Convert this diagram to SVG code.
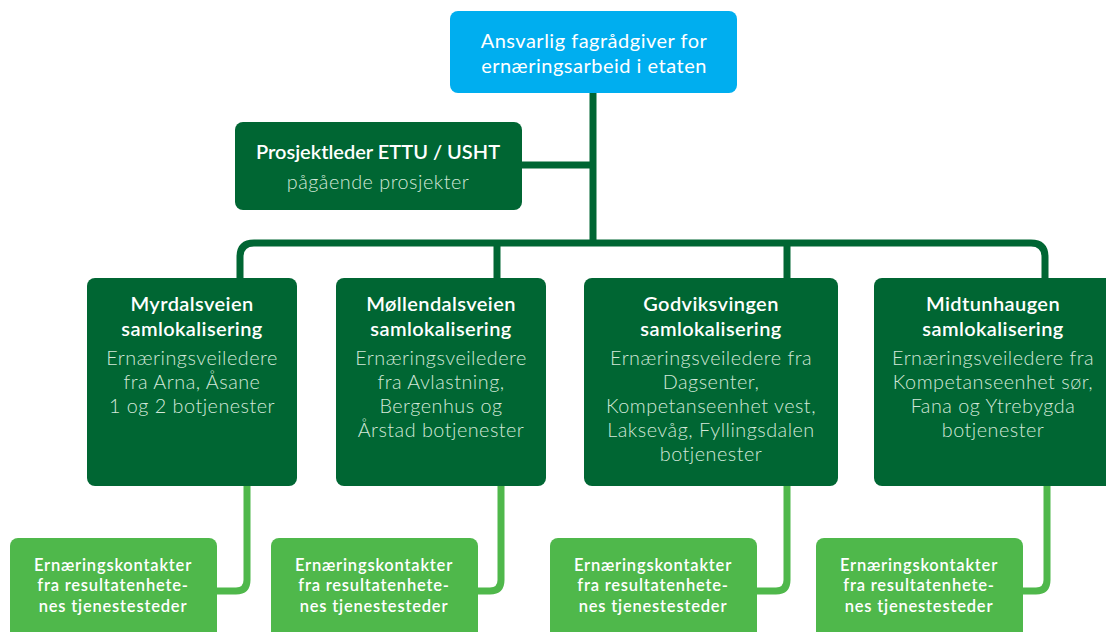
<svg xmlns="http://www.w3.org/2000/svg" width="1106" height="632" viewBox="0 0 1106 632">
<style>
.t{font-family:Lato,"Open Sans","Liberation Sans",sans-serif;text-anchor:middle;fill:#fff}
.h{font-size:20px;font-weight:600;letter-spacing:0.4px}
.a{font-size:20px;font-weight:400;letter-spacing:0.5px}
.b{font-size:19.8px;font-weight:300;fill:#d3e8d9;letter-spacing:0.5px}
.g{font-size:16.5px;font-weight:600;letter-spacing:0.8px}
.dk{fill:#006633}
.lg{fill:#4fb84b}
.cd{fill:none;stroke:#006633;stroke-width:7}
.cl{fill:none;stroke:#4fb84b;stroke-width:7}
</style>
<rect width="1106" height="632" fill="#fff"/>
<g id="connectors">
<path class="cd" d="M593 93 V243"/>
<path class="cd" d="M522 165 H593"/>
<path class="cd" d="M240 280 V257 Q240 243 254 243 H1031 Q1045 243 1045 257 V280"/>
<path class="cd" d="M497 243 V280"/>
<path class="cd" d="M787 243 V280"/>
<path class="cl" d="M247 484 V580 Q247 591 236 591 H215"/>
<path class="cl" d="M501 484 V580 Q501 591 490 591 H476"/>
<path class="cl" d="M787 484 V580 Q787 591 776 591 H755"/>
<path class="cl" d="M1047 484 V580 Q1047 591 1036 591 H1021"/>
</g>
<g id="top">
<rect x="450" y="11" width="287" height="82" rx="8" fill="#00aeef"/>
<text class="t a" x="594" y="48">Ansvarlig fagrådgiver for</text>
<text class="t a" x="594" y="73">ernæringsarbeid i etaten</text>
</g>
<g id="prosjektleder">
<rect class="dk" x="235" y="122" width="287" height="88" rx="8"/>
<text class="t h" style="letter-spacing:0" x="378" y="159">Prosjektleder ETTU / USHT</text>
<text class="t b" x="378" y="189">pågående prosjekter</text>
</g>
<g id="myrdalsveien">
<rect class="dk" x="87" y="278" width="210" height="208" rx="8"/>
<text class="t h" x="192" y="311">Myrdalsveien</text>
<text class="t h" x="192" y="336">samlokalisering</text>
<text class="t b" x="192" y="365">Ernæringsveiledere</text>
<text class="t b" x="192" y="389">fra Arna, Åsane</text>
<text class="t b" x="192" y="413">1 og 2 botjenester</text>
</g>
<g id="mollendalsveien">
<rect class="dk" x="336" y="278" width="210" height="208" rx="8"/>
<text class="t h" x="441" y="311">Møllendalsveien</text>
<text class="t h" x="441" y="336">samlokalisering</text>
<text class="t b" x="441" y="365">Ernæringsveiledere</text>
<text class="t b" x="441" y="389">fra Avlastning,</text>
<text class="t b" x="441" y="413">Bergenhus og</text>
<text class="t b" x="441" y="437">Årstad botjenester</text>
</g>
<g id="godviksvingen">
<rect class="dk" x="584" y="278" width="254" height="208" rx="8"/>
<text class="t h" x="711" y="311">Godviksvingen</text>
<text class="t h" x="711" y="336">samlokalisering</text>
<text class="t b" x="711" y="365">Ernæringsveiledere fra</text>
<text class="t b" x="711" y="389">Dagsenter,</text>
<text class="t b" x="711" y="413">Kompetanseenhet vest,</text>
<text class="t b" x="711" y="437">Laksevåg, Fyllingsdalen</text>
<text class="t b" x="711" y="461">botjenester</text>
</g>
<g id="midtunhaugen">
<rect class="dk" x="874" y="278" width="240" height="208" rx="8"/>
<text class="t h" x="993" y="311">Midtunhaugen</text>
<text class="t h" x="993" y="336">samlokalisering</text>
<text class="t b" x="993" y="365">Ernæringsveiledere fra</text>
<text class="t b" x="993" y="389">Kompetanseenhet sør,</text>
<text class="t b" x="993" y="413">Fana og Ytrebygda</text>
<text class="t b" x="993" y="437">botjenester</text>
</g>
<g id="kontakt1">
<rect class="lg" x="10" y="538" width="207" height="110" rx="8"/>
<text class="t g" x="113" y="571">Ernæringskontakter</text>
<text class="t g" x="113" y="591">fra resultatenhete-</text>
<text class="t g" x="113" y="612">nes tjenestesteder</text>
</g>
<g id="kontakt2">
<rect class="lg" x="271" y="538" width="207" height="110" rx="8"/>
<text class="t g" x="374" y="571">Ernæringskontakter</text>
<text class="t g" x="374" y="591">fra resultatenhete-</text>
<text class="t g" x="374" y="612">nes tjenestesteder</text>
</g>
<g id="kontakt3">
<rect class="lg" x="550" y="538" width="207" height="110" rx="8"/>
<text class="t g" x="653" y="571">Ernæringskontakter</text>
<text class="t g" x="653" y="591">fra resultatenhete-</text>
<text class="t g" x="653" y="612">nes tjenestesteder</text>
</g>
<g id="kontakt4">
<rect class="lg" x="816" y="538" width="207" height="110" rx="8"/>
<text class="t g" x="919" y="571">Ernæringskontakter</text>
<text class="t g" x="919" y="591">fra resultatenhete-</text>
<text class="t g" x="919" y="612">nes tjenestesteder</text>
</g>
</svg>
